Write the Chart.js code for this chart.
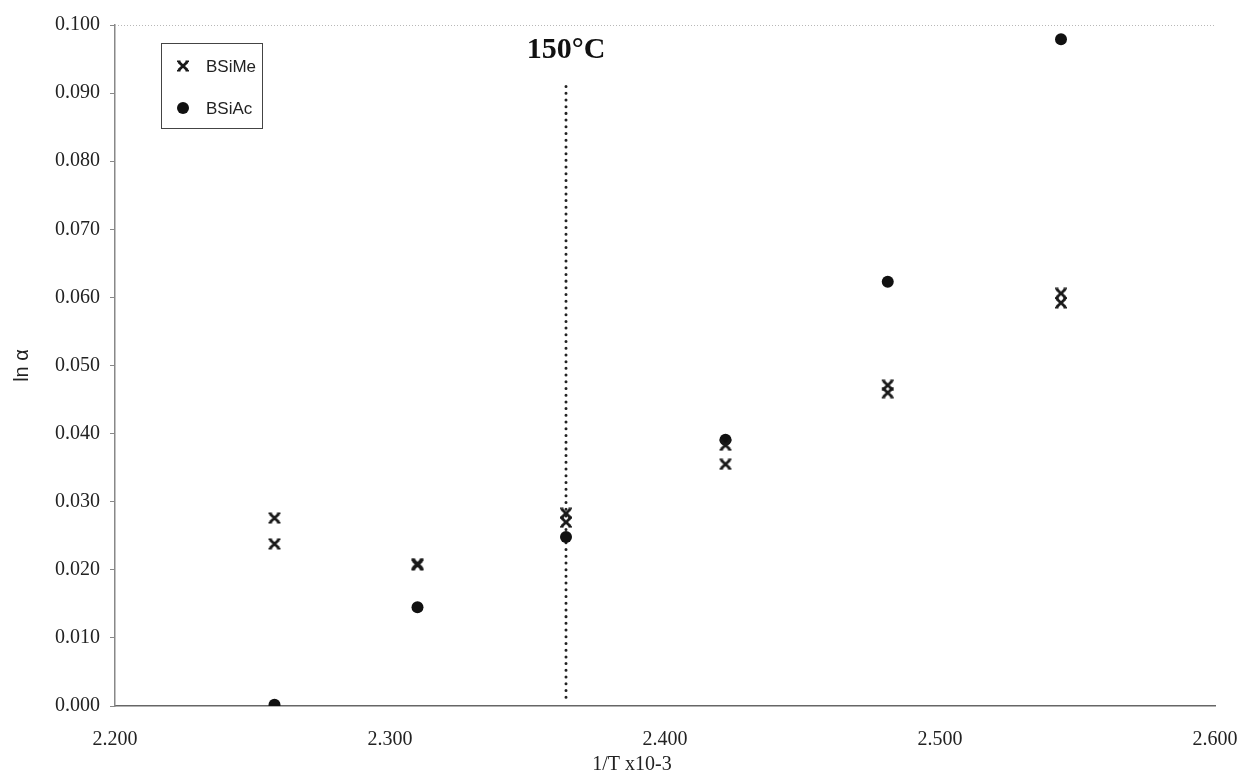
<!DOCTYPE html>
<html>
<head>
<meta charset="utf-8">
<script src="https://cdn.jsdelivr.net/npm/chart.js@4.4.1/dist/chart.umd.min.js"></script>
<style>
  html, body { margin: 0; padding: 0; background: #fff; }
  #wrap { width: 1244px; height: 783px; }
</style>
</head>
<body>
<div id="wrap"><canvas id="myChart" width="1244" height="783"></canvas></div>
<script>
// 1/T x10-3 for each run temperature
const inv_temp = [2.258, 2.310, 2.364, 2.422, 2.481, 2.544];
// ln alpha, BSiMe measured twice at each temperature
const bsime_a = [0.0276, 0.0209, 0.0283, 0.0383, 0.0471, 0.0606];
const bsime_b = [0.0238, 0.0207, 0.0270, 0.0355, 0.0460, 0.0592];
const bsiac = [0.0002, 0.0145, 0.0248, 0.0391, 0.0623, 0.0979];
// 150°C marker line
const mark_x = 2.364;
const mark_y = [0.0013, 0.0919];
const mark_label = '150°C';
const x_ticks = [2.2, 2.3, 2.4, 2.5, 2.6];
const y_ticks = [0, 0.01, 0.02, 0.03, 0.04, 0.05, 0.06, 0.07, 0.08, 0.09, 0.1];

// star marker like the excel one
const star = document.createElement('canvas');
star.width = 14; star.height = 12;
(function () {
    const c = star.getContext('2d');
    c.strokeStyle = '#1a1a1a';
    c.lineWidth = 2.8;
    c.beginPath();
    c.moveTo(2.5, 1.8); c.lineTo(11.5, 10.2);
    c.moveTo(11.5, 1.8); c.lineTo(2.5, 10.2);
    c.stroke();
    c.lineWidth = 1.6;
    c.beginPath();
    c.moveTo(1, 1.2); c.lineTo(4.5, 1.2);
    c.moveTo(9.5, 1.2); c.lineTo(13, 1.2);
    c.moveTo(1, 10.8); c.lineTo(4.5, 10.8);
    c.moveTo(9.5, 10.8); c.lineTo(13, 10.8);
    c.stroke();
})();

const pts = (xs, ys) => xs.map((x, i) => ({x: x, y: ys[i]}));

const extras = {
    id: 'extras',
    afterDraw(chart) {
        const c = chart.ctx, a = chart.chartArea;
        const xs = chart.scales.x, ys = chart.scales.y;
        c.save();
        // dotted top border
        c.strokeStyle = '#b8b8b8';
        c.lineWidth = 1;
        c.setLineDash([1, 2]);
        c.beginPath();
        c.moveTo(a.left, a.top + 0.5);
        c.lineTo(a.right, a.top + 0.5);
        c.stroke();
        c.setLineDash([]);
        // 150°C label
        c.fillStyle = '#111';
        c.font = 'bold 30px "Liberation Serif"';
        c.textAlign = 'center';
        c.textBaseline = 'middle';
        c.fillText(mark_label, xs.getPixelForValue(mark_x), ys.getPixelForValue(0.0963));
        // x axis title
        c.fillStyle = '#222';
        c.font = '20px "Liberation Serif"';
        c.fillText('1/T x10-3', 632, 765);
        // legend box
        const bx = a.left + 46, by = a.top + 18;
        c.strokeStyle = '#444';
        c.lineWidth = 1;
        c.strokeRect(bx + 0.5, by + 0.5, 101, 85);
        c.font = '17px "Liberation Sans"';
        c.textAlign = 'left';
        [0, 2].forEach((di, i) => {
            const ds = chart.data.datasets[di];
            const cy = by + 23 + i * 42;
            if (ds.pointStyle === 'circle') {
                c.fillStyle = '#111';
                c.beginPath();
                c.arc(bx + 22, cy, ds.pointRadius, 0, Math.PI * 2);
                c.fill();
            } else {
                c.drawImage(ds.pointStyle, bx + 22 - ds.pointStyle.width / 2, cy - ds.pointStyle.height / 2);
            }
            c.fillStyle = '#222';
            c.fillText(ds.label, bx + 45, cy + 1);
        });
        c.restore();
    }
};

const ctx = document.getElementById('myChart').getContext('2d');
let myChart = new Chart(ctx, {
    type: 'scatter',
    data: {
        datasets: [
            {
                label: 'BSiMe',
                data: pts(inv_temp, bsime_a),
                pointStyle: star,
                pointRadius: 6
            },
            {
                label: 'BSiMe',
                data: pts(inv_temp, bsime_b),
                pointStyle: star,
                pointRadius: 6
            },
            {
                label: 'BSiAc',
                data: pts(inv_temp, bsiac),
                pointStyle: 'circle',
                pointRadius: 6,
                backgroundColor: '#111',
                borderColor: '#111',
                borderWidth: 0
            },
            {
                label: 'mark',
                type: 'line',
                data: mark_y.map(y => ({x: mark_x, y: y})),
                showLine: true,
                borderColor: '#222',
                borderWidth: 3,
                borderDash: [0.01, 6.7],
                borderCapStyle: 'round',
                pointRadius: 0
            }
        ]
    },
    options: {
        responsive: false,
        animation: false,
        layout: {padding: {top: 25, right: 29, left: 0, bottom: 0}},
        plugins: {legend: {display: false}, tooltip: {enabled: false}},
        scales: {
            x: {
                type: 'linear',
                min: 2.2, max: 2.6,
                afterBuildTicks: s => { s.ticks = x_ticks.map(v => ({value: v})); },
                afterFit: s => { s.height = 77; s.paddingRight = 0; s.paddingLeft = 0; },
                grid: {display: false},
                border: {color: '#666', width: 1.5},
                ticks: {
                    padding: 14,
                    color: '#222',
                    font: {family: 'Liberation Serif', size: 20},
                    callback: v => v.toFixed(3)
                }
            },
            y: {
                min: 0, max: 0.1,
                afterBuildTicks: s => { s.ticks = y_ticks.map(v => ({value: v})); },
                afterFit: s => { s.width = 115; },
                grid: {drawOnChartArea: false, drawTicks: true, tickLength: 5, color: '#888'},
                border: {color: '#888', width: 1.5},
                ticks: {
                    padding: 10,
                    color: '#222',
                    font: {family: 'Liberation Serif', size: 20},
                    callback: v => v.toFixed(3)
                },
                title: {
                    display: true,
                    text: 'ln α',
                    color: '#222',
                    font: {family: 'Liberation Sans', size: 20},
                    padding: {top: 10, bottom: 0}
                }
            }
        }
    },
    plugins: [extras]
});
</script>
</body>
</html>
